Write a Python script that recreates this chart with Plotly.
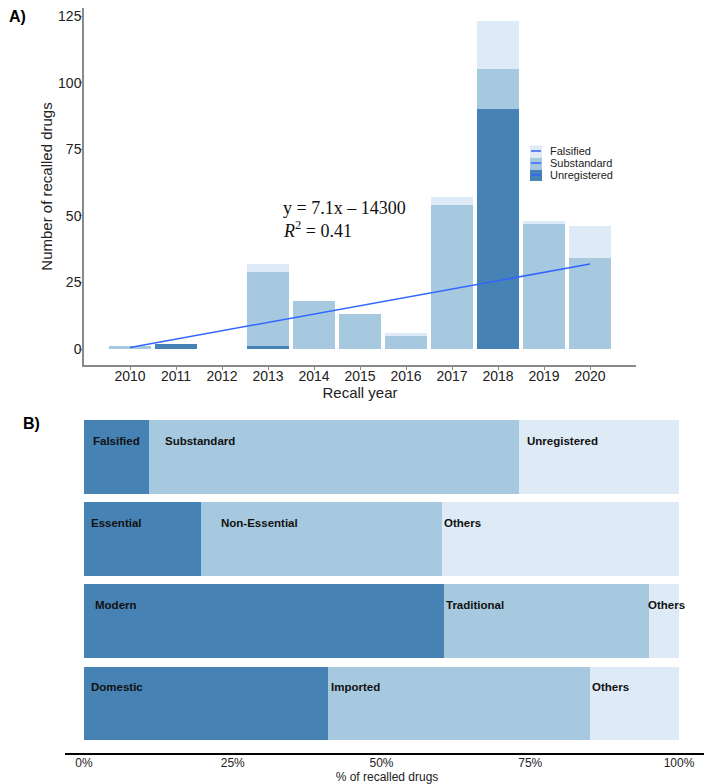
import plotly.graph_objects as go

# ---------------- data: panel A ----------------
years = [2010, 2011, 2012, 2013, 2014, 2015, 2016, 2017, 2018, 2019, 2020]
unregistered = [0, 2, 0, 1, 0, 0, 0, 0, 90, 0, 0]
substandard = [1, 0, 0, 28, 18, 13, 5, 54, 15, 47, 34]
falsified = [0, 0, 0, 3, 0, 0, 1, 3, 18, 1, 12]
trend_years = [2010, 2020]
trend_values = [0.6, 31.9]
y_ticks = [0, 25, 50, 75, 100, 125]
equation_text = "y = 7.1x \u2013 14300"
r2_text = "<i>R</i><sup>2</sup> = 0.41"

# ---------------- data: panel B ----------------
rows = [0, 1, 2, 3]
first_labels = ["Falsified", "Essential", "Modern", "Domestic"]
first_vals = [11.0, 19.7, 60.5, 41.0]
second_labels = ["Substandard", "Non-Essential", "Traditional", "Imported"]
second_vals = [62.1, 40.5, 34.4, 44.0]
third_labels = ["Unregistered", "Others", "Others", "Others"]
third_vals = [26.9, 39.8, 5.1, 15.0]
pct_ticks = [0, 25, 50, 75, 100]
pct_ticktext = ["0%", "25%", "50%", "75%", "100%"]

# label nudges (in % units) used for text placement
label_nudge = [[1.2, 2.3, 1.0], [0.8, 3.0, 0.0], [1.5, 0.0, -0.5], [0.8, 0.2, 0.0]]

DARK = "#4682B4"
MID = "#A7C9E0"
LIGHT = "#DEEAF6"
LINE = "#3366FF"
SANS = "Arial, Liberation Sans, sans-serif"
SERIF = "Times New Roman, Liberation Serif, serif"

OFF = 8          # page body margin
W, H = 712 - OFF, 784 - OFF


def px_x(p):
    return min(1.0, max(0.0, (p - OFF) / W))


def px_y(p):
    return min(1.0, max(0.0, 1 - (p - OFF) / H))


fig = go.Figure()

# panel A stacked bars
for name, vals, col in [("Unregistered", unregistered, DARK),
                        ("Substandard", substandard, MID),
                        ("Falsified", falsified, LIGHT)]:
    fig.add_trace(go.Bar(x=years, y=vals, name=name, marker_color=col,
                         marker_line_width=0, width=0.9, xaxis="x", yaxis="y",
                         showlegend=False))

fig.add_trace(go.Scatter(x=trend_years, y=trend_values, mode="lines", name="trend",
                         line=dict(color=LINE, width=1.5), xaxis="x", yaxis="y",
                         showlegend=False))

# panel B stacked horizontal bars
for vals, labs, col in [(first_vals, first_labels, DARK), (second_vals, second_labels, MID),
                        (third_vals, third_labels, LIGHT)]:
    fig.add_trace(go.Bar(x=vals, y=rows, orientation="h", marker_color=col,
                         marker_line_width=0, width=0.9, xaxis="x2", yaxis="y2",
                         hovertext=labs, showlegend=False))

annotations = []
for i, r in enumerate(rows):
    starts = [0, first_vals[i], first_vals[i] + second_vals[i]]
    labs = [first_labels[i], second_labels[i], third_labels[i]]
    for j in range(3):
        annotations.append(dict(x=starts[j] + label_nudge[i][j], y=r - 0.2,
                                xref="x2", yref="y2", text="<b>%s</b>" % labs[j],
                                showarrow=False, xanchor="left", yanchor="middle",
                                font=dict(family=SANS, size=11.5, color="#111")))

# equation
annotations.append(dict(x=px_x(281), y=px_y(208), xref="paper", yref="paper",
                        text=equation_text, showarrow=False, xanchor="left",
                        yanchor="middle", font=dict(family=SERIF, size=18, color="#111")))
annotations.append(dict(x=px_x(281), y=px_y(229), xref="paper", yref="paper",
                        text=r2_text, showarrow=False, xanchor="left",
                        yanchor="middle", font=dict(family=SERIF, size=18, color="#111")))

# panel labels
annotations.append(dict(x=px_x(8), y=px_y(17), xref="paper", yref="paper", text="<b>A)</b>",
                        showarrow=False, xanchor="left", yanchor="middle", borderpad=0,
                        font=dict(family=SANS, size=16, color="#000")))
annotations.append(dict(x=px_x(21), y=px_y(423), xref="paper", yref="paper", text="<b>B)</b>",
                        showarrow=False, xanchor="left", yanchor="middle",
                        font=dict(family=SANS, size=16, color="#000")))

# manual legend for panel A
shapes = []
legend_items = [("Falsified", LIGHT), ("Substandard", MID), ("Unregistered", DARK)]
for k, (name, col) in enumerate(legend_items):
    top = 145 + 12 * k
    shapes.append(dict(type="rect", xref="paper", yref="paper",
                       x0=px_x(530), x1=px_x(542), y0=px_y(top + 12), y1=px_y(top + 0.5),
                       fillcolor=col, line=dict(width=0)))
    shapes.append(dict(type="line", xref="paper", yref="paper",
                       x0=px_x(531), x1=px_x(541), y0=px_y(top + 6), y1=px_y(top + 6),
                       line=dict(color=LINE, width=1.5)))
    annotations.append(dict(x=px_x(548), y=px_y(top + 6), xref="paper", yref="paper",
                            text=name, showarrow=False, xanchor="left", yanchor="middle",
                            font=dict(family=SANS, size=11, color="#222")))

# panel A vertical scale: 0 at y=349px, 125 at y=16px; plot top clipped at page top
PX_PER_UNIT = (349 - 16) / 125
y_top_val = (349 - OFF) / PX_PER_UNIT
y_bot_val = -(365 - 349) / PX_PER_UNIT

fig.update_layout(
    width=W, height=H,
    margin=dict(l=0, r=0, t=0, b=0),
    paper_bgcolor="white", plot_bgcolor="white",
    barmode="stack",
    showlegend=False,
    font=dict(family=SANS, color="#222"),
    annotations=annotations,
    shapes=shapes,
    xaxis=dict(domain=[px_x(84), px_x(636)], anchor="y", range=[2009, 2021],
               tickvals=years, ticktext=[str(y) for y in years],
               tickfont=dict(size=14, color="#222"),
               showline=True, linecolor="#8a8a8a", linewidth=1.5,
               ticks="outside", ticklen=3, tickcolor="#8a8a8a",
               ticklabelstandoff=-6,
               showgrid=False, zeroline=False, automargin=False,
               title=dict(text="Recall year", font=dict(size=15, color="#222"), standoff=0)),
    yaxis=dict(domain=[px_y(365), 1.0], anchor="x", range=[y_bot_val, y_top_val],
               tickvals=y_ticks, tickfont=dict(size=14, color="#222"),
               showline=True, linecolor="#8a8a8a", linewidth=1.5,
               ticks="outside", ticklen=3, tickcolor="#8a8a8a",
               ticklabelstandoff=-5, ticklabeloverflow="allow",
               showgrid=False, zeroline=False, automargin=False,
               title=dict(text="Number of recalled drugs", font=dict(size=15, color="#222"),
                          standoff=2)),
    xaxis2=dict(domain=[px_x(65), px_x(709)], anchor="y2", range=[-3.19, 105.04],
                tickvals=pct_ticks, ticktext=pct_ticktext,
                tickfont=dict(size=12, color="#222"),
                showline=True, linecolor="#000", linewidth=1.5, ticks="",
                ticklabelstandoff=-2,
                showgrid=False, zeroline=False, automargin=False,
                title=dict(text="% of recalled drugs", font=dict(size=12, color="#222"),
                           standoff=1)),
    yaxis2=dict(domain=[px_y(752.7), px_y(408)], anchor="x2", range=[3.6, -0.6],
                visible=False, showgrid=False, zeroline=False),
)

fig.write_html("out.html")
